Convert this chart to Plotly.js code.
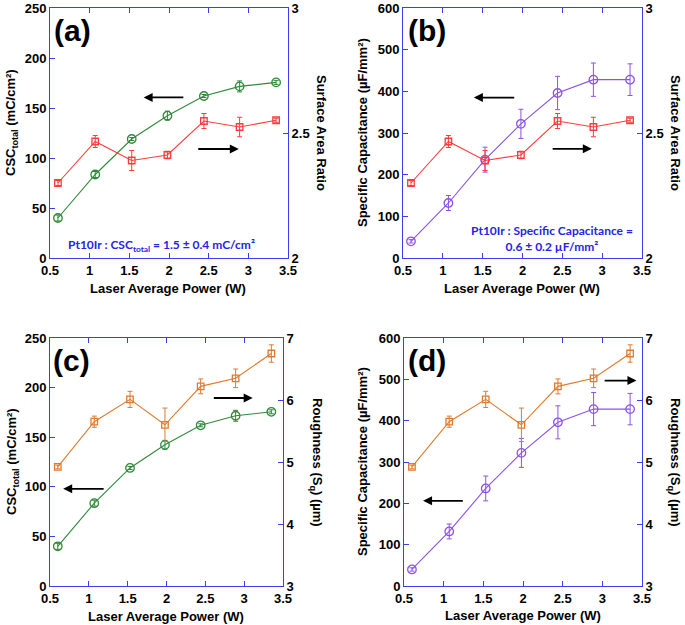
<!DOCTYPE html>
<html>
<head>
<meta charset="utf-8">
<script src="https://cdn.plot.ly/plotly-3.0.1.min.js"></script>
<style>html,body{margin:0;padding:0;background:#fff;}#chart{width:685px;height:625px;}</style>
</head>
<body>
<div id="chart"></div>
<script>
// ---- data ----
const laserPower = [0.6, 1.07, 1.53, 1.98, 2.44, 2.89, 3.35];
const cscTotal = [40, 83.5, 119, 142.3, 162, 171.6, 175.6];
const cscTotalErr = [3, 3, 1.5, 4.5, 1.5, 5.5, 2];
const specCap = [40, 132, 236, 322, 396, 428, 428];
const specCapErr = [4, 18, 30, 35, 40, 40, 38];
const areaRatio = [2.30, 2.466, 2.39, 2.412, 2.548, 2.524, 2.551];
const areaRatioErr = [0.01, 0.024, 0.04, 0.015, 0.03, 0.039, 0.008];
const roughness = [4.92, 5.65, 6.01, 5.6, 6.22, 6.35, 6.75];
const roughnessErr = [0.03, 0.09, 0.13, 0.27, 0.12, 0.15, 0.14];

const xTicks = [0.5, 1, 1.5, 2, 2.5, 3, 3.5];
const panelLabels = ['(a)', '(b)', '(c)', '(d)'];
const xTitle = 'Laser Average Power (W)';
const cscTitle = 'CSC<sub>total</sub> (mC/cm²)';
const capTitle = 'Specific Capacitance (µF/mm²)';
const ratioTitle = 'Surface Area Ratio';
const roughTitle = 'Roughness (S<sub>q</sub>) (µm)';
const noteA = 'Pt10Ir : CSC<sub>total</sub> = 1.5 ± 0.4 mC/cm²';
const noteB = 'Pt10Ir : Specific Capacitance =<br>0.6 ± 0.2 µF/mm²';

// ---- styling ----
const W = 685, H = 625;
const AX = '#3c3cf0';
const GREEN = '#2f8a3a', RED = '#ff3b3b', PURPLE = '#8b52ec', ORANGE = '#e17a2c', NOTE = '#2424e6';
const FONT = 'Arial, "Liberation Sans", sans-serif';
const px = v => v / W;
const py = v => 1 - v / H;

function trace(y, err, color, symbol, xa, ya) {
  return {
    x: laserPower, y: y, xaxis: xa, yaxis: ya, type: 'scatter', mode: 'lines+markers',
    line: {color: color, width: 1.1},
    marker: {symbol: symbol, size: symbol.startsWith('circle') ? 8.5 : 6.5, color: color, line: {color: color, width: 1.3}},
    error_y: {type: 'data', array: err, visible: true, color: color, thickness: 1, width: 2.5},
    showlegend: false, hoverinfo: 'skip'
  };
}

const data = [
  trace(areaRatio, areaRatioErr, RED, 'square-open', 'x', 'y2'),
  trace(cscTotal, cscTotalErr, GREEN, 'circle-open', 'x', 'y'),
  trace(areaRatio, areaRatioErr, RED, 'square-open', 'x2', 'y4'),
  trace(specCap, specCapErr, PURPLE, 'circle-open', 'x2', 'y3'),
  trace(roughness, roughnessErr, ORANGE, 'square-open', 'x3', 'y6'),
  trace(cscTotal, cscTotalErr, GREEN, 'circle-open', 'x3', 'y5'),
  trace(roughness, roughnessErr, ORANGE, 'square-open', 'x4', 'y8'),
  trace(specCap, specCapErr, PURPLE, 'circle-open', 'x4', 'y7')
];

const tickFont = {family: FONT, size: 13, color: '#000', weight: 'bold'};
function xAxis(l, r, anchor) {
  return {domain: [px(l), px(r)], anchor: anchor, range: [0.5, 3.5], tickvals: xTicks,
    ticks: 'inside', ticklen: 5, tickcolor: AX, tickwidth: 1, showline: true, linecolor: AX, linewidth: 1,
    mirror: 'ticks', showgrid: false, zeroline: false, tickfont: tickFont, fixedrange: true};
}
function yLeft(t, b, anchor, range, dtick) {
  return {domain: [py(b), py(t)], anchor: anchor, range: range, dtick: dtick, tick0: 0,
    ticks: 'inside', ticklen: 5, tickcolor: AX, tickwidth: 1, showline: true, linecolor: AX, linewidth: 1,
    showgrid: false, zeroline: false, tickfont: tickFont, fixedrange: true};
}
function yRight(over, anchor, range, dtick) {
  return {overlaying: over, side: 'right', anchor: anchor, range: range, dtick: dtick, tick0: range[0],
    ticks: 'inside', ticklen: 5, tickcolor: AX, tickwidth: 1, showline: true, linecolor: AX, linewidth: 1,
    showgrid: false, zeroline: false, tickfont: tickFont, fixedrange: true};
}

const layout = {
  width: W, height: H, margin: {l: 0, r: 0, t: 0, b: 0},
  paper_bgcolor: '#fff', plot_bgcolor: 'rgba(0,0,0,0)', font: {family: FONT},
  xaxis: xAxis(50, 288, 'y'),
  yaxis: yLeft(8, 258, 'x', [0, 250], 50),
  yaxis2: yRight('y', 'x', [2, 3], 0.5),
  xaxis2: xAxis(403, 642, 'y3'),
  yaxis3: yLeft(8, 258, 'x2', [0, 600], 100),
  yaxis4: yRight('y3', 'x2', [2, 3], 0.5),
  xaxis3: xAxis(50, 283, 'y5'),
  yaxis5: yLeft(338, 586, 'x3', [0, 250], 50),
  yaxis6: yRight('y5', 'x3', [3, 7], 1),
  xaxis4: xAxis(404, 642, 'y7'),
  yaxis7: yLeft(338, 586, 'x4', [0, 600], 100),
  yaxis8: yRight('y7', 'x4', [3, 7], 1),
  annotations: []
};

const titleFont = {family: FONT, size: 13, color: '#000', weight: 'bold'};
function textAnn(text, x, y, angle, font) {
  layout.annotations.push({text: text, xref: 'paper', yref: 'paper', x: px(x), y: py(y),
    xanchor: 'center', yanchor: 'middle', showarrow: false, textangle: angle || 0, font: font || titleFont});
}
// axis titles
textAnn(xTitle, 168, 288); textAnn(xTitle, 522, 288);
textAnn(xTitle, 166, 616); textAnn(xTitle, 523, 615);
textAnn(cscTitle, 12, 123, -90); textAnn(capTitle, 362, 133, -90);
textAnn(cscTitle, 12, 462, -90); textAnn(capTitle, 362, 462, -90);
textAnn(ratioTitle, 322, 133, 90); textAnn(ratioTitle, 676, 133, 90);
textAnn(roughTitle, 317, 462, 90); textAnn(roughTitle, 675, 462, 90);
// panel labels
const labFont = {family: FONT, size: 30, color: '#000', weight: 'bold'};
textAnn(panelLabels[0], 72, 31, 0, labFont);
textAnn(panelLabels[1], 427, 31, 0, labFont);
textAnn(panelLabels[2], 71, 360, 0, labFont);
textAnn(panelLabels[3], 427, 360, 0, labFont);
// blue notes
const noteFont = {family: 'Lato, "Open Sans", sans-serif', size: 12, color: NOTE, weight: 'bold'};
textAnn(noteA, 161, 245, 0, noteFont);
textAnn(noteB, 552, 238, 0, noteFont);

// arrows pointing to the axis each series uses
function arrow(xa, ya, x0, x1, y) {
  layout.annotations.push({xref: xa, yref: ya, axref: xa, ayref: ya, x: x1, y: y, ax: x0, ay: y,
    text: '', showarrow: true, arrowhead: 2, arrowsize: 1, arrowwidth: 1.8, arrowcolor: '#000'});
}
arrow('x', 'y', 2.2, 1.68, 160.6);
arrow('x', 'y', 2.35, 2.88, 109);
arrow('x2', 'y3', 1.915, 1.39, 385);
arrow('x2', 'y3', 2.36, 2.87, 262);
arrow('x3', 'y5', 1.21, 0.67, 98);
arrow('x3', 'y5', 2.59, 3.11, 189.5);
arrow('x4', 'y7', 1.26, 0.74, 206);
arrow('x4', 'y7', 3.01, 3.43, 497);

Plotly.newPlot('chart', data, layout, {staticPlot: true, displayModeBar: false});
</script>
</body>
</html>
